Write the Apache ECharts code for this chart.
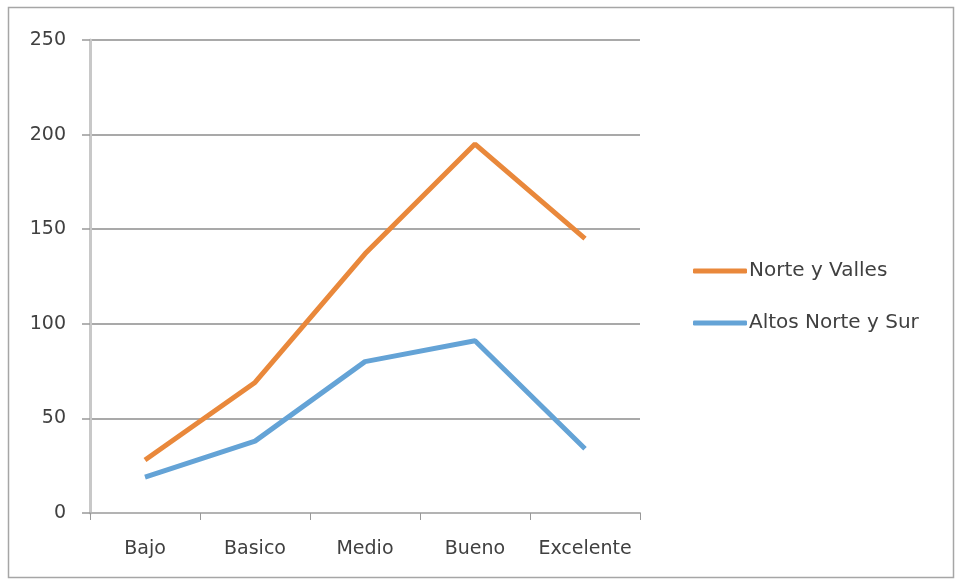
<!DOCTYPE html>
<html>
<head>
<meta charset="utf-8">
<script src="https://cdn.jsdelivr.net/npm/echarts@6/dist/echarts.min.js"></script>
<style>
html,body{margin:0;padding:0;background:#fff;}
#chart{width:957px;height:579px;}
</style>
</head>
<body>
<div id="chart"></div>
<script>
const categories = ['Bajo', 'Basico', 'Medio', 'Bueno', 'Excelente'];
const norteYValles = [28, 69, 137, 195, 145];
const altosNorteYSur = [19, 38, 80, 91, 34];
const seriesNames = ['Norte y Valles', 'Altos Norte y Sur'];

const chart = echarts.init(document.getElementById('chart'));
const font = '"DejaVu Sans", "Open Sans", sans-serif';
chart.setOption({
  animation: false,
  backgroundColor: '#fff',
  graphic: [{
    type: 'rect', left: 6, top: 5,
    shape: { width: 945, height: 570 },
    style: { fill: 'none', stroke: '#a6a6a6', lineWidth: 1.5 }
  }],
  grid: { left: 90, right: 317, top: 40, bottom: 66 },
  legend: {
    orient: 'vertical',
    left: 688, top: 256,
    itemWidth: 54, itemHeight: 5,
    itemGap: 32,
    icon: 'roundRect',
    data: seriesNames,
    textStyle: { fontFamily: font, fontSize: 20, color: '#404040', padding: [0, 0, 0, -3] }
  },
  xAxis: {
    type: 'category',
    data: categories,
    boundaryGap: true,
    axisLine: { lineStyle: { color: '#b3b3b3', width: 2 } },
    axisTick: { show: true, interval: 0, length: 7, lineStyle: { color: '#999', width: 1 } },
    axisLabel: { interval: 0, hideOverlap: false, fontFamily: font, fontSize: 19, color: '#404040', margin: 27 }
  },
  yAxis: {
    type: 'value',
    min: 0, max: 250, interval: 50,
    axisLine: { show: true, lineStyle: { color: '#c8c8c8', width: 3 } },
    axisTick: { show: true, length: 8, lineStyle: { color: '#999', width: 1.5 } },
    splitLine: { lineStyle: { color: '#8c8c8c', width: 1.5 } },
    axisLabel: { fontFamily: font, fontSize: 19, color: '#404040', margin: 24 }
  },
  series: [
    {
      name: seriesNames[0], type: 'line', data: norteYValles,
      symbol: 'none', color: '#E9883B',
      lineStyle: { width: 5, color: '#E9883B' }
    },
    {
      name: seriesNames[1], type: 'line', data: altosNorteYSur,
      symbol: 'none', color: '#64A3D6',
      lineStyle: { width: 5, color: '#64A3D6' }
    }
  ]
});
</script>
</body>
</html>
